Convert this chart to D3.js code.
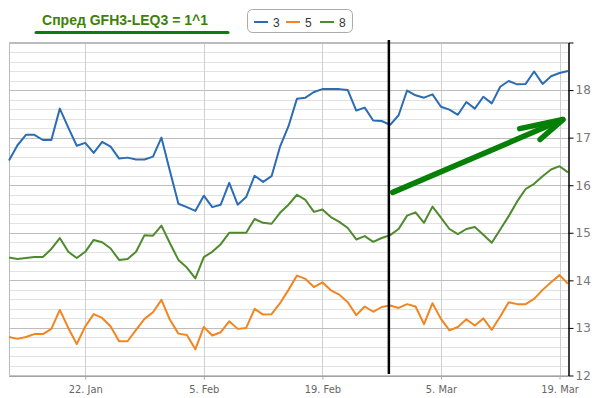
<!DOCTYPE html>
<html><head><meta charset="utf-8">
<script src="https://cdn.jsdelivr.net/npm/d3@7"></script>
<style>
body{margin:0;background:#fff;}
svg{display:block;}
</style></head>
<body><svg id="c" width="601" height="398"></svg>
<script>
// ---- data ----
const startDate = new Date(2023, 0, 13);
const seriesNames = ["3", "5", "8"];
const seriesColors = ["#2a6db5", "#f2851f", "#4f8a2e"];
const s3 = [16.52,16.84,17.06,17.06,16.95,16.95,17.61,17.21,16.83,16.89,16.68,16.91,
  16.81,16.56,16.58,16.54,16.54,16.60,17.00,16.30,15.61,15.54,15.46,
  15.78,15.54,15.59,16.05,15.59,15.75,16.20,16.07,16.19,16.81,17.24,17.82,
  17.84,17.96,18.02,18.02,18.02,18.00,17.57,17.63,17.36,17.35,17.27,
  17.47,17.99,17.89,17.84,17.91,17.65,17.59,17.48,17.75,17.61,17.86,
  17.72,18.07,18.19,18.12,18.13,18.39,18.13,18.29,18.36,18.40];
const s5 = [12.81,12.77,12.81,12.87,12.87,12.98,13.38,13.00,12.66,13.03,13.29,13.21,
  13.03,12.72,12.72,12.96,13.19,13.33,13.59,13.17,12.88,12.85,12.55,
  13.02,12.84,12.91,13.14,12.98,13.00,13.40,13.28,13.29,13.52,13.80,14.10,
  14.03,13.86,13.96,13.79,13.70,13.54,13.27,13.45,13.34,13.44,13.47,
  13.42,13.50,13.45,13.08,13.52,13.19,12.95,13.02,13.18,13.05,13.20,
  12.96,13.24,13.54,13.50,13.50,13.61,13.80,13.96,14.11,13.93];
const s8 = [14.48,14.45,14.47,14.49,14.49,14.66,14.89,14.60,14.47,14.60,14.85,14.80,
  14.67,14.43,14.45,14.60,14.95,14.94,15.15,14.78,14.43,14.27,14.04,
  14.49,14.60,14.76,15.00,15.00,15.00,15.29,15.21,15.19,15.42,15.59,15.80,
  15.69,15.44,15.49,15.33,15.23,15.10,14.86,14.93,14.81,14.89,14.95,
  15.08,15.36,15.43,15.21,15.55,15.32,15.08,14.97,15.08,15.12,14.96,
  14.79,15.07,15.35,15.66,15.92,16.03,16.19,16.33,16.40,16.27];
const xTickDates = [new Date(2023,0,22), new Date(2023,1,5), new Date(2023,1,19), new Date(2023,2,5), new Date(2023,2,19)];
const yTickValues = [12,13,14,15,16,17,18,19];
const yDomain = [12, 19];
const titleText = "Спред GFH3-LEQ3 = 1^1";
// annotations (day offset from start, value)
const markerDay = 44.85;
const arrowLine = [[45.3, 15.85], [65.4, 17.38]];
const arrowHead = [[60.3, 17.19], [65.4, 17.38], [62.7, 16.96]];

// ---- chart ----
const svg = d3.select("#c");
const L = 9, R = 568, T = 42.5, B = 375.5;
const dayDate = d => d3.timeDay.offset(startDate, 0).getTime() + d * 86400000;
const dates = s3.map((_, i) => d3.timeDay.offset(startDate, i));
const x = d3.scaleTime().domain([startDate, dates[dates.length - 1]]).range([L, R]);
const y = d3.scaleLinear().domain(yDomain).range([B, T]);
const xd = d => x(new Date(startDate.getTime() + d * 86400000));

// minor grid
svg.append("g").selectAll("line").data(y.ticks(35).filter(v => Math.abs(v - Math.round(v)) > 1e-6))
  .join("line").attr("x1", L).attr("x2", R)
  .attr("y1", d => Math.round(y(d)) + 0.5).attr("y2", d => Math.round(y(d)) + 0.5)
  .attr("stroke", "#e2e2e2").attr("stroke-width", 1);
// vertical grid
svg.append("g").selectAll("line").data(xTickDates).join("line")
  .attr("x1", d => Math.round(x(d)) + 0.5).attr("x2", d => Math.round(x(d)) + 0.5)
  .attr("y1", T).attr("y2", B).attr("stroke", "#cfcfcf");
// major grid
svg.append("g").selectAll("line").data(y.ticks(7)).join("line")
  .attr("x1", L).attr("x2", R)
  .attr("y1", d => Math.round(y(d)) + 0.5).attr("y2", d => Math.round(y(d)) + 0.5)
  .attr("stroke", "#bdbdbd");
// border
svg.append("path").attr("d", `M${L + 0.5},${B}V${T}H${R}`).attr("fill", "none").attr("stroke", "#bbb");

// series
const line = d3.line().x((d, i) => x(dates[i])).y(d => y(d));
[s8, s5, s3].forEach((s, k) => {
  const col = [seriesColors[2], seriesColors[1], seriesColors[0]][k];
  svg.append("path").datum(s).attr("d", line).attr("fill", "none")
    .attr("stroke", col).attr("stroke-width", 2).attr("stroke-linejoin", "round");
});

// bottom axis
const xAxis = svg.append("g").attr("transform", `translate(0,${B})`)
  .call(d3.axisBottom(x).tickValues(xTickDates).tickFormat(d3.timeFormat("%-d. %b")).tickSize(4).tickSizeOuter(0));
xAxis.select(".domain").attr("stroke", "#888");
xAxis.selectAll(".tick line").attr("stroke", "#aaa");
xAxis.selectAll("text").attr("fill", "#666").attr("font-family", "'DejaVu Sans Condensed', 'DejaVu Sans'")
  .attr("font-stretch", "condensed").attr("font-size", 11).attr("dy", "0.95em");

// right axis
const yAxis = svg.append("g").attr("transform", `translate(${R + 0.5},0)`)
  .call(d3.axisRight(y).tickValues(yTickValues).tickFormat(d => d < 19 ? d : "").tickSize(5).tickSizeOuter(0));
yAxis.select(".domain").attr("stroke", "#000").attr("stroke-width", 1.5);
yAxis.selectAll(".tick line").attr("stroke", "#000");
yAxis.selectAll("text").attr("fill", "#777").attr("font-family", "'DejaVu Sans'").attr("font-size", 12).attr("x", 7);

// marker line
svg.append("line").attr("x1", xd(markerDay)).attr("x2", xd(markerDay)).attr("y1", 40).attr("y2", 374)
  .attr("stroke", "#000").attr("stroke-width", 2.5);

// arrow
const ap = d3.line().x(d => xd(d[0])).y(d => y(d[1]));
svg.append("path").attr("d", ap(arrowLine)).attr("stroke", "#068006").attr("stroke-width", 5.5)
  .attr("stroke-linecap", "round").attr("fill", "none");
svg.append("path").attr("d", ap(arrowHead)).attr("stroke", "#068006").attr("stroke-width", 5.5)
  .attr("stroke-linecap", "round").attr("stroke-linejoin", "round").attr("fill", "none");

// title
svg.append("text").attr("x", 125).attr("y", 25).attr("text-anchor", "middle")
  .attr("font-family", "'Liberation Sans', Arial, sans-serif").attr("font-size", 14).attr("font-weight", "bold")
  .attr("fill", "#3f7f0c").text(titleText);
svg.append("line").attr("x1", 36).attr("x2", 228).attr("y1", 32.5).attr("y2", 32.5)
  .attr("stroke", "#0b7d0b").attr("stroke-width", 3).attr("stroke-linecap", "round");

// legend
const lg = svg.append("g");
lg.append("rect").attr("x", 247.5).attr("y", 9.5).attr("width", 105).attr("height", 23).attr("rx", 5)
  .attr("fill", "#fff").attr("stroke", "#aaa");
const lgX = [254, 286, 320];
seriesNames.forEach((n, i) => {
  lg.append("line").attr("x1", lgX[i]).attr("x2", lgX[i] + 14).attr("y1", 22).attr("y2", 22)
    .attr("stroke", seriesColors[i]).attr("stroke-width", 2);
  lg.append("text").attr("x", lgX[i] + 19).attr("y", 26.5).attr("font-family", "'Liberation Sans', Arial, sans-serif")
    .attr("font-size", 12).attr("fill", "#333").text(n);
});
</script></body></html>
